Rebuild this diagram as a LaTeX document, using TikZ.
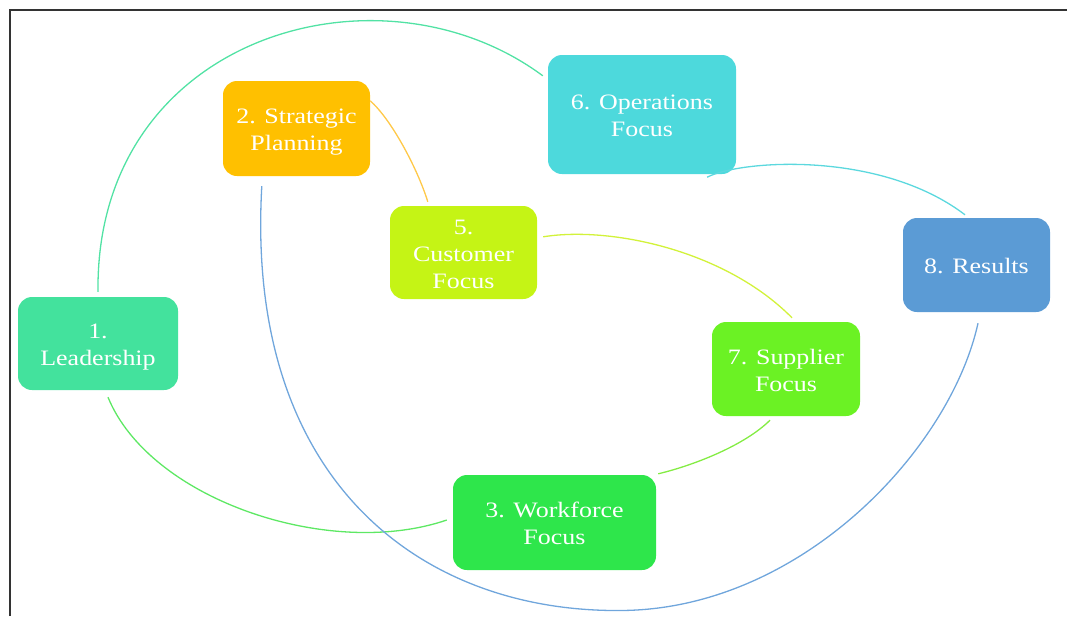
\documentclass[tikz,border=0pt]{standalone}
\usepackage{fontspec}
\setmainfont{Liberation Serif}[FakeStretch=1.18]
\definecolor{cLead}{HTML}{43E29D}
\definecolor{cStrat}{HTML}{FFC000}
\definecolor{cCust}{HTML}{C5F415}
\definecolor{cOps}{HTML}{4DD9DC}
\definecolor{cRes}{HTML}{5B9BD5}
\definecolor{cSupp}{HTML}{6BF224}
\definecolor{cWork}{HTML}{2EE64B}
\definecolor{lTeal}{HTML}{52E2A4}
\definecolor{lGreen}{HTML}{5EE864}
\definecolor{lOrange}{HTML}{FFC94A}
\definecolor{lBlue}{HTML}{70A6DC}
\definecolor{lLime}{HTML}{D2F23A}
\definecolor{lLeaf}{HTML}{84EC44}
\definecolor{lCyan}{HTML}{5CD8DE}
% stage label: centred lines, with extra room above so they sit a little low
\newcommand\stagetext[1]{\raisebox{0pt}[\dimexpr\height+7pt\relax][\depth]{\begin{tabular}{@{}c@{}}#1\end{tabular}}}
\begin{document}
\begin{tikzpicture}[x=1pt,y=-1pt,
  stage/.style={rounded corners=14pt, text=white, inner sep=0pt,
    font=\fontsize{22}{27}\selectfont},
  link/.style={line width=1.3pt}]
\useasboundingbox (0,0) rectangle (1067,616);

% frame (top and left edges)
\draw[line width=2pt, black!80] (9.5,616) -- (9.5,9.5) -- (1067,9.5);

% stages
\node[stage, fill=cLead,  minimum width=160pt, minimum height=93pt]  (lead) at (98,343.5)  {\stagetext{1.\\Leadership}};
\node[stage, fill=cStrat, minimum width=147pt, minimum height=95pt]  (strat) at (296.5,128.5) {\stagetext{2. Strategic\\Planning}};
\node[stage, fill=cCust,  minimum width=147pt, minimum height=93pt]  (cust) at (463.5,252.5) {\stagetext{5.\\Customer\\Focus}};
\node[stage, fill=cOps,   minimum width=188pt, minimum height=119pt] (ops) at (642,114.5)  {\stagetext{6. Operations\\Focus}};
\node[stage, fill=cRes,   minimum width=147pt, minimum height=94pt]  (res) at (976.5,265)  {\stagetext{8. Results}};
\node[stage, fill=cSupp,  minimum width=148pt, minimum height=94pt]  (supp) at (786,369)   {\stagetext{7. Supplier\\Focus}};
\node[stage, fill=cWork,  minimum width=203pt, minimum height=95pt]  (work) at (554.5,522.5) {\stagetext{3. Workforce\\Focus}};

% connectors
\draw[link, lTeal]   ([shift={(0,-5)}]lead.north)
  .. controls (95,35) and (380,-45) .. ([shift={(-5,21)}]ops.north west);
\draw[link, lGreen]  ([shift={(10,7)}]lead.south)
  .. controls (150,500) and (330,560) .. ([shift={(-6,-2.5)}]work.west);
\draw[link, lOrange] ([shift={(0,20)}]strat.north east)
  .. controls (392,120) and (418,170) .. ([shift={(38,-4)}]cust.north west);
\draw[link, lBlue]   ([shift={(39,10)}]strat.south west)
  .. controls (245,480) and (420,612) .. (620,610.5)
  .. controls (800,610) and (950,450) .. ([shift={(1.5,11)}]res.south);
\draw[link, lLime]   ([shift={(6,31)}]cust.north east)
  .. controls (610,226) and (725,250) .. ([shift={(6,-4)}]supp.north);
\draw[link, lLeaf]   ([shift={(-16,4)}]supp.south)
  .. controls (745,445) and (695,465) .. ([shift={(2,-1)}]work.north east);
\draw[link, lCyan]   ([shift={(-29,3)}]ops.south east)
  .. controls (740,160) and (880,150) .. ([shift={(-11.5,-3)}]res.north);
\end{tikzpicture}
\end{document}
